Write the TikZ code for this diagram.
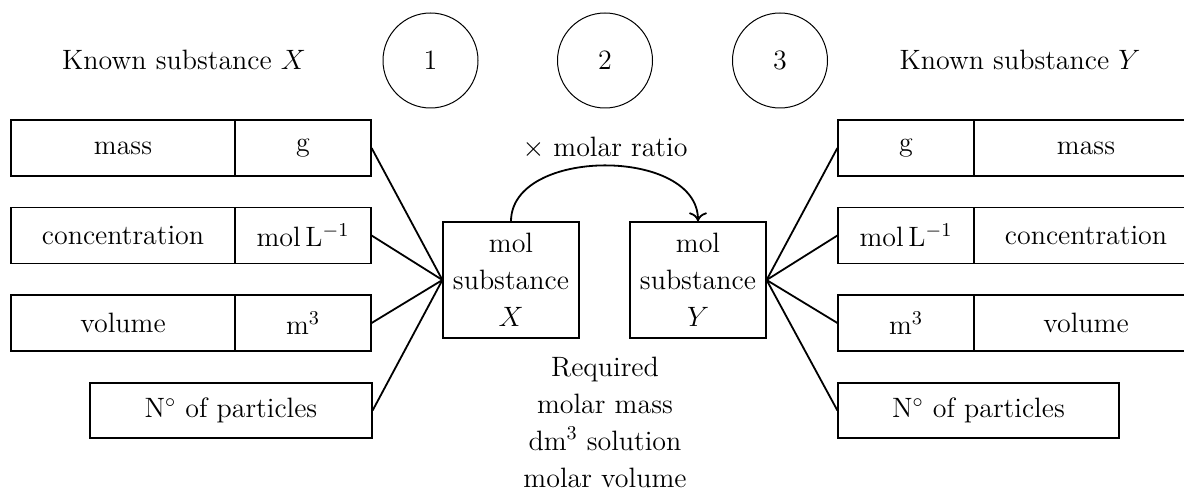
\RequirePackage{fix-cm}
\documentclass[tikz,border=0pt]{standalone}
\usetikzlibrary{arrows.meta}
\tikzset{
  every node/.style={font=\fontsize{14}{18.5}\selectfont},
  cellbox/.style={draw, line width=0.6pt, inner sep=0pt, minimum height=28pt},
  namebox/.style={cellbox, minimum width=112pt},
  unitbox/.style={cellbox, minimum width=68pt},
  nbox/.style={cellbox, minimum width=141pt, minimum height=27.5pt},
  molbox/.style={draw, line width=0.6pt, inner sep=0pt, minimum width=68pt, minimum height=58pt, align=center},
  stepcircle/.style={draw, circle, line width=0.5pt, inner sep=0pt, minimum size=47.5pt},
  link/.style={line width=0.9pt},
}
\begin{document}
\begin{tikzpicture}[x=0.5pt,y=-0.5pt]
\useasboundingbox (0,0) rectangle (1184,492);
\clip (0,0) rectangle (1184,492);

% titles and circles
\node (kx) at (184,60) {Known substance $X$};
\node (ky) at (1020,60) {Known substance $Y$};
\node[stepcircle] (c1) at (430.5,60.5) {1};
\node[stepcircle] (c2) at (605,60.5) {2};
\node[stepcircle] (c3) at (780,60.5) {3};

% left table
\node[namebox] (ln1) at (123,148) {mass};
\node[unitbox] (lu1) at (303,148) {g};
\node[namebox] (ln2) at (123,235.5) {concentration};
\node[unitbox] (lu2) at (303,235.5) {mol\,L$^{-1}$};
\node[namebox] (ln3) at (123,323) {volume};
\node[unitbox] (lu3) at (303,323) {m$^3$};
\node[nbox] (lN) at (231,410.5) {N$^\circ$ of particles};

% right table
\node[unitbox] (ru1) at (906,148) {g};
\node[namebox] (rn1) at (1086,148) {mass};
\node[unitbox] (ru2) at (906,235.5) {mol\,L$^{-1}$};
\node[namebox] (rn2) at (1086,235.5) {concentration};
\node[unitbox] (ru3) at (906,323) {m$^3$};
\node[namebox] (rn3) at (1086,323) {volume};
\node[nbox, minimum width=140.5pt] (rN) at (978.5,410.5) {N$^\circ$ of particles};

% mol boxes
\node[molbox] (mx) at (511,280) {mol\\substance\\$X$};
\node[molbox] (my) at (698,280) {mol\\substance\\$Y$};

% connectors
\foreach \n in {lu1,lu2,lu3,lN} \draw[link] (\n.east) -- (mx.west);
\foreach \n in {ru1,ru2,ru3,rN} \draw[link] (my.east) -- (\n.west);

\draw[link, -{To[length=4.5pt,width=9pt]}] (mx.north) to[out=90,in=90,looseness=1.02] (my.north);
\node (ratio) at (605,148) {$\times$ molar ratio};

\node[align=center, inner sep=0pt] (req) at (605,422) {Required\\molar mass\\dm$^3$ solution\\molar volume};
\end{tikzpicture}
\end{document}
